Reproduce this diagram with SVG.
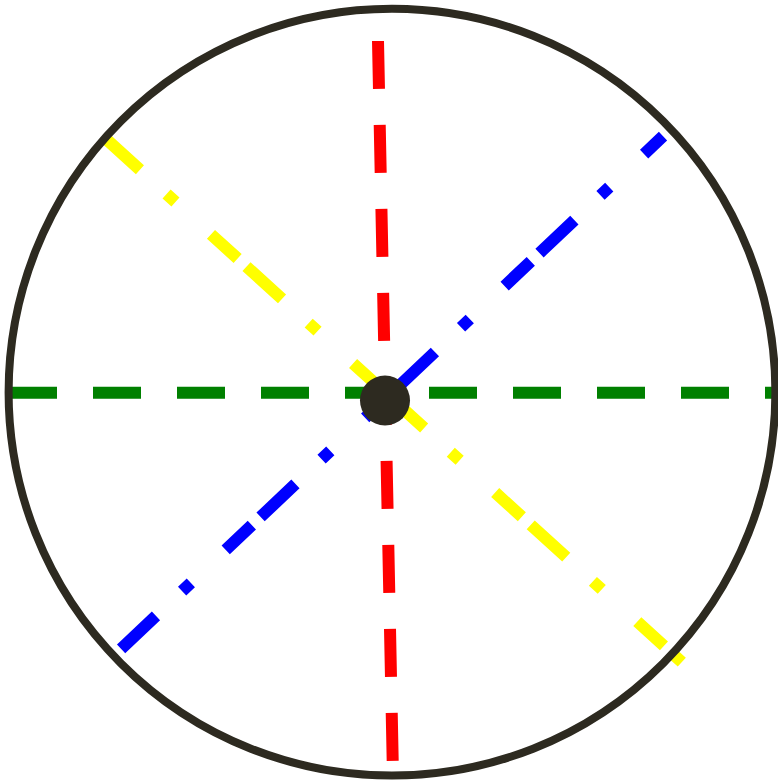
<svg xmlns="http://www.w3.org/2000/svg" width="778" height="782" viewBox="0 0 778 782">
  <style>
    .ln { fill: none; stroke-width: 12; stroke-linecap: butt; }
    .dash { stroke-dasharray: 48 36; }
    .dashdot { stroke-dasharray: 48 36 12; }
    .dark { fill: #2d2a20; }
  </style>
  <rect x="0" y="0" width="778" height="782" fill="#ffffff"/>
  <g id="connectors">
    <line id="green-line" class="ln dash" x1="9" y1="392.8" x2="778" y2="392.8" stroke="#008000"/>
    <line id="red-line" class="ln dash" x1="378" y1="41" x2="392.7" y2="761" stroke="#ff0000"/>
    <line id="yellow-line" class="ln dashdot" x1="104.4" y1="137.5" x2="681.8" y2="662.1" stroke="#ffff00"/>
    <line id="blue-line" class="ln dashdot" x1="121.1" y1="648.9" x2="663.0" y2="136.2" stroke="#0000ff"/>
  </g>
  <g id="outer-circle">
    <circle cx="392" cy="392.2" r="383.4" fill="none" stroke="#2d2a20" stroke-width="8"/>
  </g>
  <g id="center-dot">
    <circle class="dark" cx="385" cy="400.5" r="25"/>
  </g>
</svg>
